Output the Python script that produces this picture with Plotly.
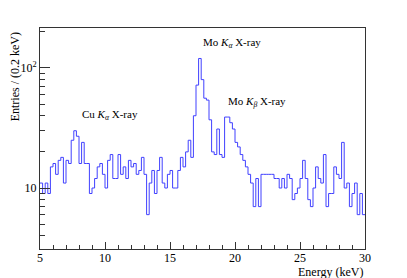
import math
import plotly.graph_objects as go

# Histogram: entries per 0.2 keV bin, from 5 keV to 30 keV
bin_low = 5.0
bin_width = 0.2
counts = [
    11, 9, 11, 9, 15, 16, 13, 17, 18, 11,
    17, 16, 25, 30, 27, 16, 24, 16, 16, 9,
    10, 12, 15, 16, 13, 10, 17, 19, 12, 12,
    19, 13, 15, 12, 17, 15, 16, 13, 14, 18,
    13, 6, 11, 14, 9, 14, 18, 11, 10, 13,
    14, 10, 10, 14, 18, 15, 20, 25, 18, 40,
    72, 120, 80, 56, 54, 37, 20, 19, 31, 19,
    18, 39, 39, 35, 31, 24, 22, 19, 17, 15,
    13, 11, 7, 12, 7, 13, 13, 13, 13, 13,
    12, 12, 10, 12, 10, 13, 12, 8, 9, 10,
    12, 17, 12, 8, 7, 10, 15, 12, 11, 19,
    7, 9, 9, 15, 13, 12, 24, 10, 11, 7,
    9, 11, 6, 9, 6,
]

x_ticks = [5, 10, 15, 20, 25, 30]
y_ticks = [10, 100]
y_tick_text = ["10", "10<sup>2</sup>"]
y_minor = [4, 5, 6, 7, 8, 9, 20, 30, 40, 50, 60, 70, 80, 90, 200]

labels = [
    ("Cu <i>K</i><sub><i>α</i></sub> X-ray", 8.08, 40.5),
    ("Mo <i>K</i><sub><i>α</i></sub> X-ray", 17.36, 160),
    ("Mo <i>K</i><sub><i>β</i></sub> X-ray", 19.31, 52),
]

n = len(counts)
edges = [bin_low + bin_width * i for i in range(n + 1)]
xs = edges
ys = counts + [counts[-1]]

FONT = "Liberation Serif"

fig = go.Figure()
fig.add_trace(go.Scatter(
    x=xs, y=ys, mode="lines", line_shape="hv",
    line=dict(color="#4040ff", width=1),
    hoverinfo="skip", showlegend=False,
))

for text, xv, yv in labels:
    fig.add_annotation(
        x=xv, y=math.log10(yv), xref="x", yref="y", text=text,
        showarrow=False, xanchor="left", yanchor="middle",
        font=dict(family=FONT, size=11, color="black"),
    )

fig.add_annotation(
    x=1.0, y=-0.104, xref="paper", yref="paper", text="Energy (keV)",
    showarrow=False, xanchor="right", yanchor="middle",
    font=dict(family=FONT, size=12, color="black"),
)
fig.add_annotation(
    x=-0.078, y=0.99, xref="paper", yref="paper", text="Entries / (0.2 keV)",
    showarrow=False, xanchor="center", yanchor="top", textangle=-90,
    font=dict(family=FONT, size=12, color="black"),
)

fig.update_layout(
    width=399, height=270,
    margin=dict(l=32, r=42, t=20, b=29),
    paper_bgcolor="white", plot_bgcolor="white",
    font=dict(family=FONT, size=12, color="black"),
    xaxis=dict(
        range=[5, 30], tickvals=x_ticks, ticks="inside", ticklen=7,
        tickcolor="#333", showline=True, linecolor="#333", linewidth=1,
        mirror=True, showgrid=False, zeroline=False,
        tickfont=dict(family=FONT, size=12, color="black"),
        ticklabelstandoff=-2,
        minor=dict(dtick=1, ticks="inside", ticklen=4, tickcolor="#333", showgrid=False),
    ),
    yaxis=dict(
        type="log", range=[0.492, 2.333], tickvals=y_ticks, ticktext=y_tick_text,
        ticks="inside", ticklen=10, tickcolor="#333", showline=True,
        linecolor="#333", linewidth=1, mirror=True, showgrid=False, zeroline=False,
        tickfont=dict(family=FONT, size=12, color="black"),
        minor=dict(tickvals=y_minor, ticks="inside", ticklen=5, tickcolor="#333", showgrid=False),
    ),
)

fig.write_html("out.html")
